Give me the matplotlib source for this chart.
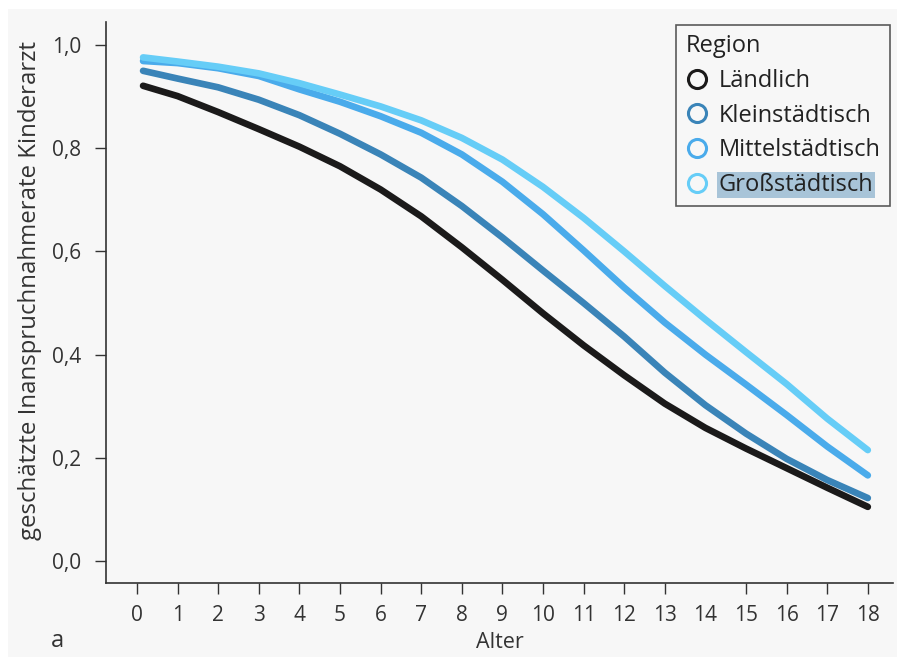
import matplotlib
matplotlib.use("Agg")
import matplotlib.pyplot as plt
from matplotlib.lines import Line2D
from matplotlib.patches import Rectangle

plt.rcParams['font.family'] = ['Open Sans', 'DejaVu Sans']

ages = [0.15, 1, 2, 3, 4, 5, 6, 7, 8, 9, 10, 11, 12, 13, 14, 15, 16, 17, 18]
laendlich = [0.921, 0.901, 0.870, 0.837, 0.803, 0.765, 0.720, 0.668, 0.608, 0.545,
             0.480, 0.418, 0.360, 0.305, 0.258, 0.218, 0.180, 0.142, 0.105]
kleinst = [0.950, 0.935, 0.918, 0.894, 0.864, 0.828, 0.788, 0.743, 0.688, 0.627,
           0.563, 0.500, 0.435, 0.365, 0.302, 0.247, 0.198, 0.157, 0.122]
mittelst = [0.969, 0.965, 0.955, 0.940, 0.914, 0.890, 0.862, 0.830, 0.788, 0.735,
            0.672, 0.602, 0.530, 0.462, 0.400, 0.342, 0.283, 0.222, 0.166]
grossst = [0.976, 0.968, 0.958, 0.945, 0.926, 0.904, 0.881, 0.854, 0.820, 0.778,
           0.725, 0.665, 0.600, 0.533, 0.468, 0.405, 0.343, 0.276, 0.215]

series_names = ["Ländlich", "Kleinstädtisch", "Mittelstädtisch", "Großstädtisch"]
colors = ["#1b1a1a", "#3a84b8", "#4aabeb", "#66cdf7"]

xticks = list(range(0, 19))
yticks = [0.0, 0.2, 0.4, 0.6, 0.8, 1.0]
ytick_labels = ["0,0", "0,2", "0,4", "0,6", "0,8", "1,0"]

W, H = 897, 659
fig = plt.figure(figsize=(W / 100, H / 100), dpi=100, facecolor="white")
fig.patches.append(Rectangle((8 / W, 2 / H), 1 - 8 / W, 1 - 11 / H,
                             transform=fig.transFigure, facecolor="#f7f7f7",
                             edgecolor="none", zorder=-10))

ax = fig.add_axes([106 / W, (H - 583) / H, (893 - 106) / W, (583 - 22) / H])
ax.set_facecolor("none")

for vals, c in zip([laendlich, kleinst, mittelst, grossst], colors):
    ax.plot(ages, vals, color=c, lw=4.8, solid_capstyle="round",
            solid_joinstyle="round")

ax.set_xlim(-0.763, 18.62)
ax.set_ylim(-0.0426, 1.0446)
ax.set_xticks(xticks)
ax.set_xticklabels([str(t) for t in xticks])
ax.set_yticks(yticks)
ax.set_yticklabels(ytick_labels)
for sp in ["top", "right"]:
    ax.spines[sp].set_visible(False)
for sp in ["left", "bottom"]:
    ax.spines[sp].set_linewidth(1.2)
    ax.spines[sp].set_color("#333333")
ax.tick_params(axis="both", direction="out", length=8, width=1.0, color="#333333",
               labelsize=15, labelcolor="#333333")
ax.tick_params(axis="y", pad=10)
ax.tick_params(axis="x", pad=8)
for t in ax.xaxis.get_major_ticks():
    if abs(t.get_loc() - 14) < 1e-6:
        t.tick1line.set_visible(False)

fig.text(30 / W, 1 - 291 / H, "geschätzte Inanspruchnahmerate Kinderarzt", rotation=90,
         ha="center", va="center", fontsize=17.3, color="#333333")
ax.set_xlabel("Alter", fontsize=15.5, color="#333333", labelpad=4)
fig.text(57 / W, 1 - 641 / H, "a", fontsize=17, color="#333333", ha="center", va="center")

handles = [Line2D([], [], linestyle="none", marker="o", markersize=13,
                  markerfacecolor="none", markeredgecolor=c, markeredgewidth=2.2)
           for c in colors]
leg = ax.legend(handles, series_names, title="Region", loc="upper right",
                bbox_to_anchor=(890 / W, 1 - 25 / H), bbox_transform=fig.transFigure,
                borderaxespad=0, fontsize=17, title_fontsize=17, frameon=True,
                fancybox=False, edgecolor="#333333", facecolor="#f7f7f7",
                handletextpad=0.4, handlelength=1.0, labelspacing=0.45,
                borderpad=0.4)
leg.get_frame().set_linewidth(1.2)
leg._legend_box.align = "left"
for txt in leg.get_texts():
    txt.set_color("#222222")
leg.get_title().set_color("#222222")
leg.get_texts()[-1].set_bbox(dict(facecolor="#a8c4d8", edgecolor="none", pad=1))

fig.savefig("out.png", dpi=100, facecolor="white")
